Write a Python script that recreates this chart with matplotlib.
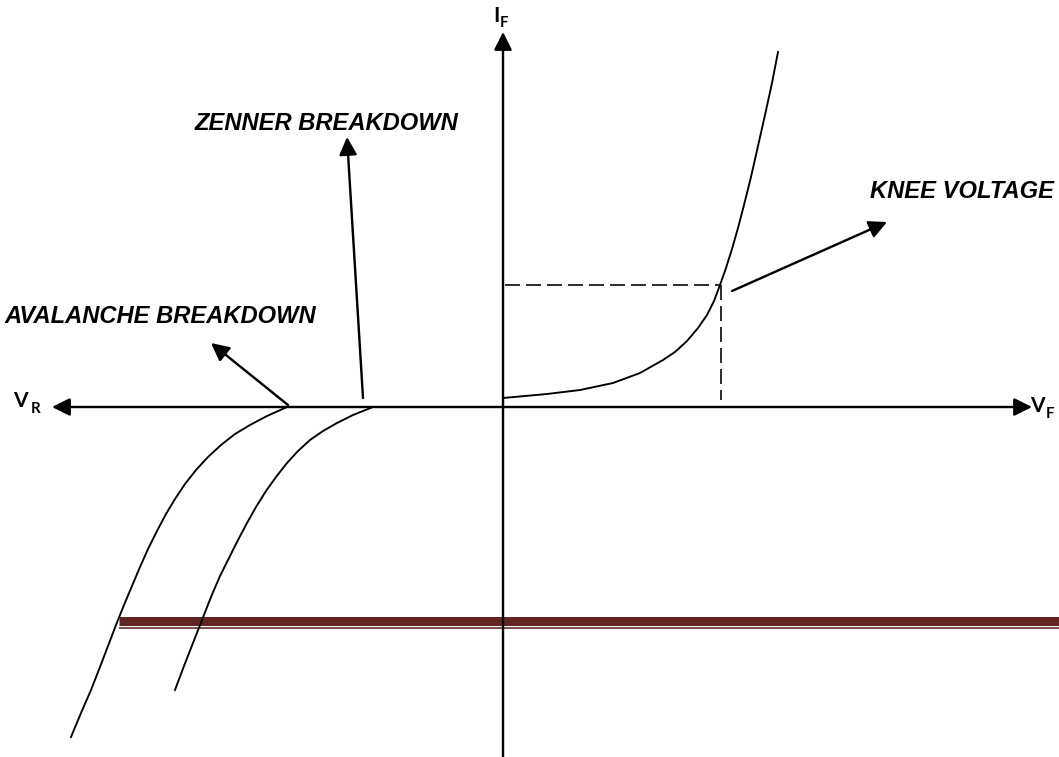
import matplotlib
matplotlib.use('Agg')
import matplotlib.pyplot as plt

# diagram units: 1 unit ~ 1 px, origin where the V and I axes cross
fwd_v = [0, 44, 77, 110, 137, 160, 172, 184, 195, 204, 211, 217, 223, 229, 235, 241, 248, 255, 262, 269, 275]
fwd_i = [9, 13, 17, 24, 34, 47, 55, 66, 79, 92, 106, 122, 139, 158, 179, 202, 230, 261, 292, 324, 355]

aval_v = [-216, -236, -253, -268, -282, -295, -307, -318, -328, -337, -346, -355, -363, -371, -379, -387, -395, -403, -412, -422, -432]
aval_i = [0, -9, -18, -27, -38, -50, -63, -77, -92, -107, -124, -142, -160, -179, -198, -218, -239, -260, -283, -306, -330]

zen_v = [-130, -150, -166, -180, -193, -205, -216, -227, -237, -247, -256, -265, -274, -283, -292, -301, -310, -319, -328]
zen_i = [0, -8, -16, -24, -33, -44, -56, -70, -84, -100, -116, -133, -151, -169, -190, -213, -236, -259, -283]

knee_v, knee_i = 218, 122

labels = ["ZENNER BREAKDOWN", "AVALANCHE BREAKDOWN", "KNEE VOLTAGE"]
label_pos = [(-308, 277), (-499, 84), (367, 209)]
# (tail, tip) of the pointer arrows
pointers = [((-140, 9), (-156, 270)),
            ((-215, 2), (-292, 64)),
            ((229, 116), (384, 185))]

W, H = 1059, 757
fig = plt.figure(figsize=(W / 100, H / 100), dpi=100)
ax = fig.add_axes([0, 0, 1, 1])
ax.set_xlim(-503, W - 503)
ax.set_ylim(407 - H, 407)
ax.axis('off')

px = 0.72  # points per pixel at dpi 100

# dark red rule
red = '#622423'
ax.plot([-384, 556], [-214, -214], color=red, lw=9 * px, solid_capstyle='butt', zorder=1)
ax.plot([-384, 556], [-221, -221], color=red, lw=1.6 * px, solid_capstyle='butt', zorder=1)

head = '-|>,head_length=1.5,head_width=0.75'
ax_kw = dict(arrowstyle=head, mutation_scale=10 * px, lw=2.4 * px, color='k',
             shrinkA=0, shrinkB=0)

# axes with arrow heads
ax.annotate('', xy=(529, 0), xytext=(0, 0), arrowprops=ax_kw, zorder=3)
ax.annotate('', xy=(-451, 0), xytext=(0, 0), arrowprops=ax_kw, zorder=3)
ax.annotate('', xy=(0, 375), xytext=(0, -350), arrowprops=ax_kw, zorder=3)

# characteristic curves
ax.plot(fwd_v, fwd_i, color='k', lw=1.9 * px, zorder=2)
ax.plot(aval_v, aval_i, color='k', lw=1.9 * px, zorder=2)
ax.plot(zen_v, zen_i, color='k', lw=1.9 * px, zorder=2)

# knee guide lines
plt.rcParams['lines.scale_dashes'] = False
ax.plot([2, knee_v], [knee_i, knee_i], color='k', lw=1.6 * px, dashes=(15 * px, 6 * px), zorder=2)
ax.plot([knee_v, knee_v], [knee_i, 7], color='k', lw=1.6 * px, dashes=(15 * px, 6 * px), zorder=2)

for (tail, tip) in pointers:
    ax.annotate('', xy=tip, xytext=tail, arrowprops=ax_kw, zorder=3)

for txt, (x, y) in zip(labels, label_pos):
    ax.text(x, y, txt, family='Liberation Sans', weight='bold', style='italic',
            fontsize=23.7 * px, ha='left', va='baseline')

lab = dict(family='Lato', weight='bold', color='k', va='baseline', ha='left')
ax.text(-490, 0, 'V', fontsize=21 * px, **lab)
ax.text(-472, -6, 'R', fontsize=15 * px, **lab)
ax.text(527, -5, 'V', fontsize=21 * px, **lab)
ax.text(543, -11, 'F', fontsize=15 * px, **lab)
ax.text(-10, 385, 'I', fontsize=21 * px, **lab)
ax.text(-3, 380, 'F', fontsize=15 * px, **lab)

fig.savefig('out.png', dpi=100)
